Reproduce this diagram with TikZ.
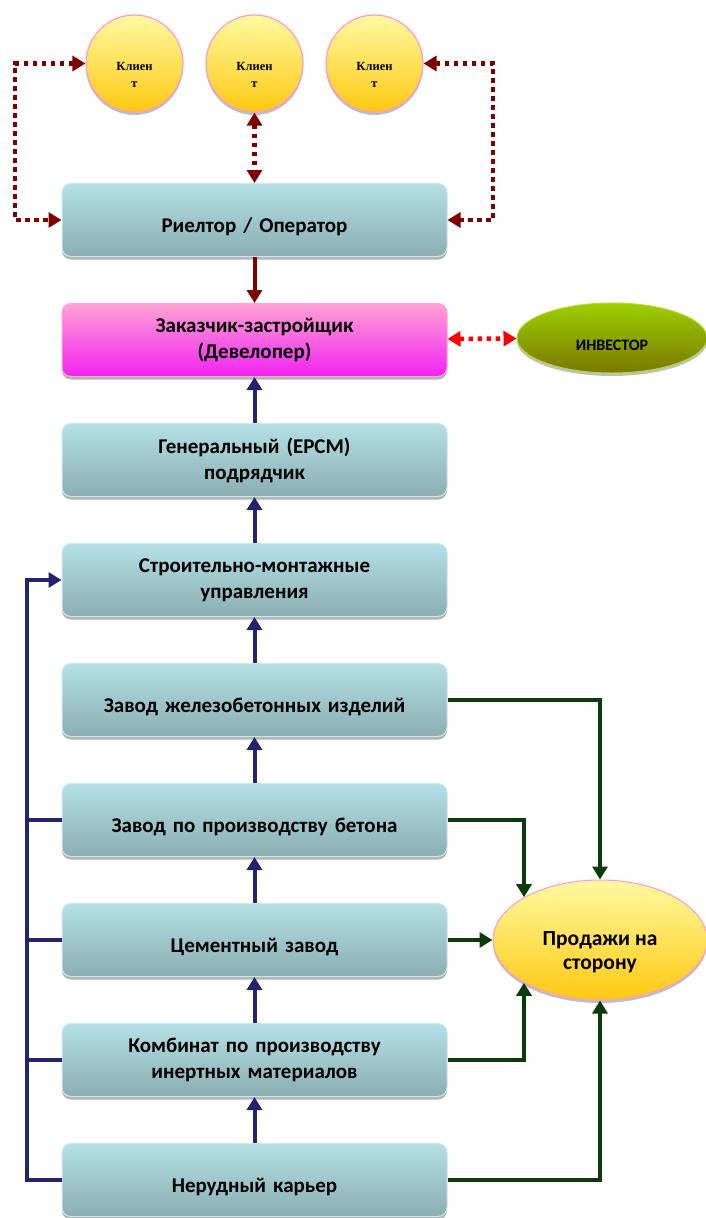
\documentclass[tikz,border=0pt]{standalone}
\usepackage{fontspec}
\setmainfont{Carlito}
\newfontfamily\clientfont{Liberation Serif}
\usetikzlibrary{arrows.meta,shadows,shapes.geometric}

\definecolor{blocktop}{HTML}{B4E0E5}
\definecolor{blockbot}{HTML}{8AAFB1}
\definecolor{blockrim}{HTML}{CBE9EC}
\definecolor{magtop}{HTML}{FFA2D4}
\definecolor{magbot}{HTML}{F222F2}
\definecolor{suntop}{HTML}{FFFAA2}
\definecolor{sunbot}{HTML}{FFC810}
\definecolor{sunrim}{HTML}{FF9ACB}
\definecolor{olivetop}{HTML}{9CD000}
\definecolor{olivebot}{HTML}{7A7800}
\definecolor{oliverim}{HTML}{B4DC30}
\definecolor{navy}{HTML}{24246E}
\definecolor{darkgreen}{HTML}{0B3B0B}
\definecolor{darkred}{HTML}{800000}

\begin{document}
\begin{tikzpicture}[x=1pt, y=-1pt]

\tikzstyle{block}=[rectangle, rounded corners=9pt, minimum width=385pt, minimum height=73pt, text width=375pt, align=center, inner sep=0pt, draw=blockrim, line width=1pt, top color=blocktop, bottom color=blockbot, drop shadow={shadow xshift=0pt, shadow yshift=-3pt, fill=black, opacity=0.3}, font=\bfseries\fontsize{21}{26}\selectfont]
\tikzstyle{blockone}=[block, text height=28pt]
\tikzstyle{blockmag}=[block, top color=magtop, bottom color=magbot, draw=magtop]
\tikzstyle{client}=[circle, minimum size=97pt, inner sep=0pt, draw=sunrim, line width=1.2pt, top color=suntop, bottom color=sunbot, drop shadow={shadow xshift=0pt, shadow yshift=-3pt, fill=black, opacity=0.25}, align=center, text height=47pt, font=\clientfont\bfseries\fontsize{12.5}{17}\selectfont]
\tikzstyle{oval}=[ellipse, inner sep=0pt, line width=1pt, align=center, drop shadow={shadow xshift=0pt, shadow yshift=-3pt, fill=black, opacity=0.25}]
\tikzstyle{edge1}=[-{Triangle[width=15pt, length=13pt]}, line width=4pt, navy]
\tikzstyle{edge2}=[-{Triangle[width=15pt, length=13pt]}, line width=4pt, darkgreen]
\tikzstyle{edge3}=[{Triangle[width=15pt, length=13pt]}-{Triangle[width=15pt, length=13pt]}, line width=4.5pt, dash pattern=on 4.5pt off 4.5pt, darkred]
\tikzstyle{edge4}=[line width=4pt, navy]

\useasboundingbox (0,0) rectangle (705,1218);

\node[client] (client1) at (134.5, 63.5) {Клиен\\т};
\node[client] (client2) at (254.5, 63.5) {Клиен\\т};
\node[client] (client3) at (374.5, 63.5) {Клиен\\т};

\node[blockone] (realtor) at (254.5, 220) {Риелтор / Оператор};
\node[blockmag] (developer) at (254.5, 340) {Заказчик-застройщик\\(Девелопер)};
\node[block] (general) at (254.5, 460) {Генеральный (EPCM)\\подрядчик};
\node[block] (smu) at (254.5, 580) {Строительно-монтажные\\управления};
\node[blockone] (zhbi) at (254.5, 700) {Завод железобетонных изделий};
\node[blockone] (beton) at (254.5, 820) {Завод по производству бетона};
\node[blockone] (cement) at (254.5, 940) {Цементный завод};
\node[block] (inert) at (254.5, 1060) {Комбинат по производству\\инертных материалов};
\node[blockone] (quarry) at (254.5, 1180) {Нерудный карьер};

\node[oval, minimum width=190pt, minimum height=70pt, draw=oliverim, top color=olivetop, bottom color=olivebot, text height=25pt, font=\bfseries\fontsize{16}{18}\selectfont] (investor) at (612, 338) {ИНВЕСТОР};
\node[oval, minimum width=214pt, minimum height=120pt, draw=sunrim, top color=suntop, bottom color=sunbot, text height=62pt, font=\bfseries\fontsize{21.5}{24}\selectfont] (sales) at (600, 940) {Продажи на\\сторону};

\coordinate (loopL) at (15, 63.5);
\coordinate (loopR) at (493, 63.5);
\coordinate (busTop) at (27, 580);

% clients and realtor
\draw[edge3] (client1.west) -- (loopL) |- (realtor.west);
\draw[edge3] (client2.south) -- (realtor.north);
\draw[edge3] (client3.east) -- (loopR) |- (realtor.east);
\draw[-{Triangle[width=15pt, length=13pt]}, line width=4pt, darkred] (realtor) -- (developer);
\draw[edge3, red] (developer) -- (investor);

% production chain
\draw[edge1] (general) -- (developer);
\draw[edge1] (smu) -- (general);
\draw[edge1] (zhbi) -- (smu);
\draw[edge1] (beton) -- (zhbi);
\draw[edge1] (cement) -- (beton);
\draw[edge1] (inert) -- (cement);
\draw[edge1] (quarry) -- (inert);

\draw[edge1] (quarry.west) -| (busTop) -- (smu.west);
\draw[edge4] (beton.west) -- (beton.west -| busTop);
\draw[edge4] (cement.west) -- (cement.west -| busTop);
\draw[edge4] (inert.west) -- (inert.west -| busTop);

% sales
\draw[edge2] (zhbi.east) -| (sales.north);
\draw[edge2] (beton.east) -| (sales.north west);
\draw[edge2] (cement.east) -- (sales.west);
\draw[edge2] (inert.east) -| (sales.south west);
\draw[edge2] (quarry.east) -| (sales.south);

\end{tikzpicture}
\end{document}
